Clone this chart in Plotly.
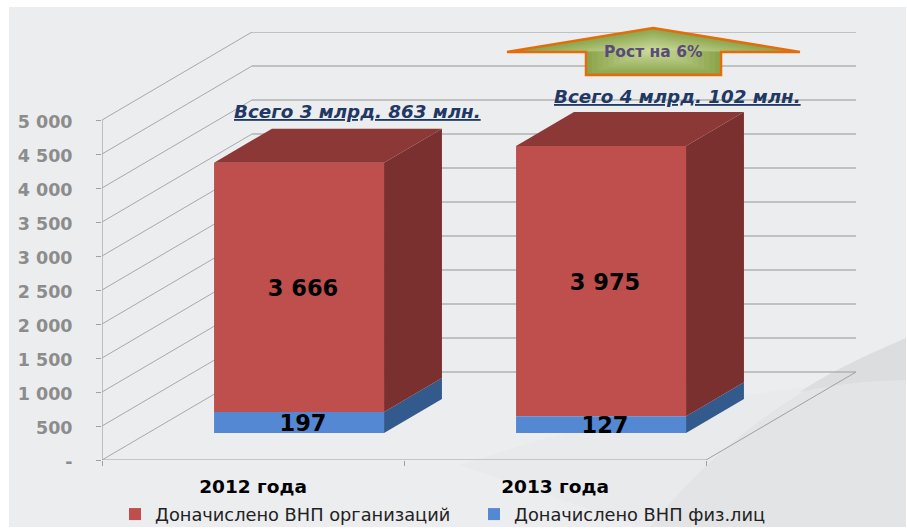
import plotly.graph_objects as go

# ---- data ----
categories = ["2012 года", "2013 года"]
red_values = [3666, 3975]
red_labels = ["3 666", "3 975"]
blue_labels = ["197", "127"]
blue_drawn = [309, 245]          # height of the blue blocks as drawn in the picture
y_ticks = [0, 500, 1000, 1500, 2000, 2500, 3000, 3500, 4000, 4500, 5000]
y_ticklabels = ["-", "500", "1 000", "1 500", "2 000", "2 500", "3 000", "3 500", "4 000", "4 500", "5 000"]
series_names = ["Доначислено ВНП организаций", "Доначислено ВНП физ.лиц"]
totals_text = ["Всего 3 млрд. 863 млн.", "Всего 4 млрд. 102 млн."]
growth_text = "Рост на 6%"

# ---- pseudo 3D geometry (axis units) ----
W, H = 907, 529
L, R, T, B = 102, 51, 32, 69
PX_PER_CAT = 302.0
PX_PER_VAL = 0.068
DX = 150 / PX_PER_CAT   # depth of the wall in x units
DY = 88 / PX_PER_VAL    # depth of the wall in y units
D_FRONT, D_BACK = 0.307, 0.693
BAR_W = 170 / PX_PER_CAT
x_max = (W - R - L) / PX_PER_CAT
y_max = (H - B - T) / PX_PER_VAL
centers = [0.5 + i + D_FRONT * DX for i in range(len(categories))]
base0 = D_FRONT * DY

RED, RED_TOP, RED_SIDE = "#BE4F4C", "#8B3836", "#7A302F"
BLUE, BLUE_SIDE = "#5588D3", "#335A8C"


def px(xp, yp):
    return (xp - L) / (W - L - R), 1 - (yp - T) / (H - T - B)


def pth(points, close=True):
    s = []
    for i, (a, b) in enumerate(points):
        u, v = px(a, b)
        s.append(("M" if i == 0 else "L") + f"{u:.4f},{v:.4f}")
    return " ".join(s) + (" Z" if close else "")


def rect_shape(x0, y0, x1, y1, color):
    a, b = px(x0, y0)
    c, d = px(x1, y1)
    return dict(type="rect", xref="paper", yref="paper", x0=a, y0=b, x1=c, y1=d,
                fillcolor=color, line_width=0, layer="below")


def cpath(seg, color):
    return dict(type="path", xref="paper", yref="paper", path=seg, fillcolor=color, line_width=0, layer="below")


def P(x, y):
    u, v = px(x, y)
    return f"{u:.4f},{v:.4f}"


shapes = [
    rect_shape(9, 7, 906, 527, "#ECEDEF"),
    cpath(f"M{P(460,465)} C{P(600,418)} {P(750,386)} {P(906,380)} L{P(906,527)} L{P(640,527)} Z", "#E9EAEC"),
    cpath(f"M{P(906,338)} C{P(800,385)} {P(720,440)} {P(650,527)} L{P(906,527)} Z", "#E3E4E6"),
    cpath(f"M{P(906,338)} C{P(860,358)} {P(830,372)} {P(800,392)} C{P(840,383)} {P(870,381)} {P(906,380)} Z", "#DCDDDF"),
]

# gridlines on the two walls and the floor
GRID_BACK = "#B2B2B2"
GRID_SIDE = "#A8A8A8"
for v in y_ticks:
    shapes.append(dict(type="line", xref="x", yref="y", x0=DX, y0=v + DY, x1=x_max, y1=v + DY,
                       line=dict(color=GRID_BACK, width=1.4), layer="below"))
    shapes.append(dict(type="line", xref="x", yref="y", x0=0, y0=v, x1=DX, y1=v + DY,
                       line=dict(color=GRID_SIDE, width=1), layer="below"))
shapes.append(dict(type="line", xref="x", yref="y", x0=0, y0=0, x1=0, y1=5000,
                   line=dict(color="#A0A0A0", width=1.2), layer="below"))
shapes.append(dict(type="line", xref="x", yref="y", x0=0, y0=0, x1=2, y1=0,
                   line=dict(color="#A0A0A0", width=1.2), layer="below"))
shapes.append(dict(type="line", xref="x", yref="y", x0=2, y0=0, x1=x_max, y1=DY,
                   line=dict(color="#A0A0A0", width=1), layer="below"))

# growth arrow with a stepped radial shade
cx, cy = 653, 50
arrow = [(653, 28), (800, 52), (721, 52), (721, 75), (586, 75), (586, 52), (507, 52)]
dark, light = (0x8C, 0xA5, 0x4C), (0xC9, 0xD9, 0x9B)
N_STEPS = 12
for i in range(N_STEPS):
    f = i / (N_STEPS - 1)
    col = "rgb(%d,%d,%d)" % tuple(round(d + (l - d) * f) for d, l in zip(dark, light))
    k = 1 - i / N_STEPS
    shapes.append(dict(type="path", xref="paper", yref="paper",
                       path=pth([(cx + (a - cx) * k, cy + (b - cy) * k) for a, b in arrow]),
                       fillcolor=col, layer="above", line=dict(width=0)))
shapes.append(dict(type="path", xref="paper", yref="paper", path=pth(arrow), fillcolor="rgba(0,0,0,0)",
                   layer="above", line=dict(color="#E46C0A", width=2.5)))

fig = go.Figure()

blue_tops = [base0 + b for b in blue_drawn]
red_tops = [t + r for t, r in zip(blue_tops, red_values)]


def poly(xs, ys, color):
    fig.add_trace(go.Scatter(x=xs, y=ys, mode="lines", fill="toself", fillcolor=color,
                             line=dict(width=0, color=color), showlegend=False, hoverinfo="skip"))


depth_x = (D_BACK - D_FRONT) * DX
depth_y = (D_BACK - D_FRONT) * DY
for c, bt, rt in zip(centers, blue_tops, red_tops):
    xl, xr = c - BAR_W / 2, c + BAR_W / 2
    poly([xr, xr + depth_x, xr + depth_x, xr, xr], [base0, base0 + depth_y, bt + depth_y, bt, base0], BLUE_SIDE)
    poly([xr, xr + depth_x, xr + depth_x, xr, xr], [bt, bt + depth_y, rt + depth_y, rt, bt], RED_SIDE)
    poly([xl, xr, xr + depth_x, xl + depth_x, xl], [rt, rt, rt + depth_y, rt + depth_y, rt], RED_TOP)

fig.add_trace(go.Bar(name=series_names[0], x=centers, y=red_values, base=blue_tops, width=BAR_W,
                     marker=dict(color=RED, line_width=0), hoverinfo="skip"))
fig.add_trace(go.Bar(name=series_names[1], x=centers, y=blue_drawn, base=[base0] * 2, width=BAR_W,
                     marker=dict(color=BLUE, line_width=0), hoverinfo="skip"))

label_font = dict(family="DejaVu Sans", size=22.5, color="#000000", weight="bold")
label_x = [c + 4 / PX_PER_CAT for c in centers]
label_dy = -3 / PX_PER_VAL
fig.add_trace(go.Scatter(x=label_x + label_x,
                         y=[t + r / 2 + label_dy for t, r in zip(blue_tops, red_values)]
                         + [base0 + b / 2 + label_dy for b in blue_drawn],
                         text=red_labels + blue_labels, mode="text", textposition="middle center",
                         textfont=label_font, showlegend=False, hoverinfo="skip"))

annotations = []
for (xp, yp), t in zip([(357.5, 111), (677, 97)], totals_text):
    u, v = px(xp, yp)
    annotations.append(dict(xref="paper", yref="paper", x=u, y=v, showarrow=False, xanchor="center", yanchor="middle",
                            text=f"<u><i><b>{t}</b></i></u>",
                            font=dict(family="DejaVu Sans", size=18.3, color="#1F3864")))
u, v = px(653, 52)
annotations.append(dict(xref="paper", yref="paper", x=u, y=v, showarrow=False, xanchor="center", yanchor="middle",
                        text=f"<b>{growth_text}</b>",
                        font=dict(family="DejaVu Sans", size=15.5, color="#5A4A78")))

fig.update_layout(
    width=W, height=H, autosize=False,
    margin=dict(l=L, r=R, t=T, b=B, pad=0, autoexpand=False),
    paper_bgcolor="#FFFFFF", plot_bgcolor="rgba(0,0,0,0)",
    barmode="overlay", shapes=shapes, annotations=annotations,
    xaxis=dict(range=[0, x_max], tickvals=[0.5, 1.5], ticktext=categories, showgrid=False, zeroline=False,
               showline=False, ticks="", ticklabelstandoff=13, automargin=False,
               tickfont=dict(family="DejaVu Sans", size=18.5, color="#000000", weight="bold"),
               minor=dict(tickvals=[0, 1, 2], ticks="outside", ticklen=5, tickcolor="#A0A0A0", tickwidth=1, showgrid=False)),
    yaxis=dict(range=[0, y_max], tickvals=y_ticks, ticktext=y_ticklabels, showgrid=False, zeroline=False,
               showline=False, ticks="outside", ticklen=5, tickcolor="#A0A0A0", tickwidth=1, ticklabelstandoff=20,
               ticklabelshift=2, automargin=False,
               tickfont=dict(family="DejaVu Sans", size=17.5, color="#8C8C8C", weight="bold")),
    legend=dict(orientation="h", x=px(115, 0)[0], xanchor="left", y=px(0, 533)[1], yanchor="bottom",
                font=dict(family="DejaVu Sans", size=17.8, color="#222222"), bgcolor="rgba(0,0,0,0)",
                entrywidth=314, entrywidthmode="pixels", traceorder="normal", itemclick=False, itemdoubleclick=False),
    showlegend=True,
)

fig.write_html("out.html", config=dict(displayModeBar=False),
               post_script="document.body.style.margin='0';document.documentElement.style.overflow='hidden';")
